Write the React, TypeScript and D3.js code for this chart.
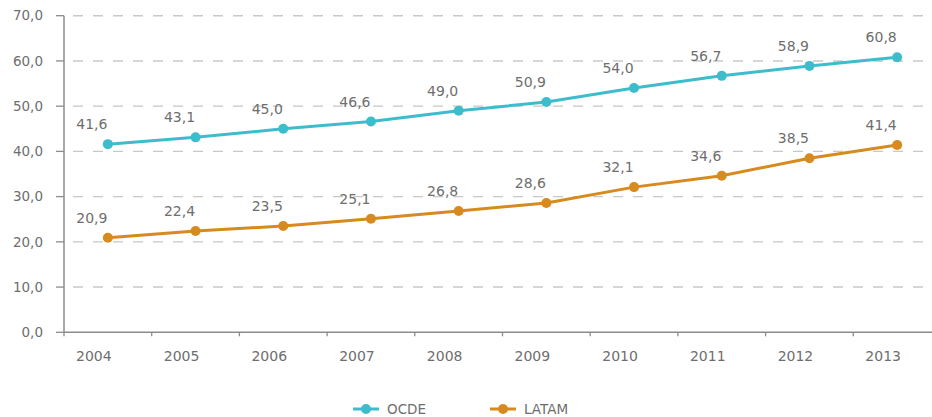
import React from "react";
import * as d3 from "d3";

const years = ["2004", "2005", "2006", "2007", "2008", "2009", "2010", "2011", "2012", "2013"];
const ocde = [41.6, 43.1, 45.0, 46.6, 49.0, 50.9, 54.0, 56.7, 58.9, 60.8];
const latam = [20.9, 22.4, 23.5, 25.1, 26.8, 28.6, 32.1, 34.6, 38.5, 41.4];
const yTicks = [0, 10, 20, 30, 40, 50, 60, 70];
const seriesNames = ["OCDE", "LATAM"];

const W = 932;
const H = 417;
const FONT = "'DejaVu Sans', sans-serif";
const TEXT = "#6e6e6e";
const AXIS = "#8c8c8c";
const GRID = "#c8c8c8";
const COLORS = ["#3dbdcc", "#d78a1e"];

const fmt = (v: number) => v.toFixed(1).replace(".", ",");

export default function App() {
  const x = d3.scaleBand<string>().domain(years).range([64, 64 + 87.7 * years.length]);
  const y = d3.scaleLinear().domain([0, 70]).range([332.3, 15.7]);
  const cx = (yr: string) => (x(yr) as number) + x.bandwidth() / 2;

  const line = d3
    .line<number>()
    .x((_, i) => cx(years[i]))
    .y((d) => y(d));

  const series = [ocde, latam];

  return (
    <svg
      width={W}
      height={H}
      style={{ position: "absolute", left: 0, top: 0, background: "#fff" }}
      fontFamily={FONT}
    >
      {/* horizontal grid */}
      {yTicks.slice(1).map((t) => (
        <line
          key={"g" + t}
          x1={68}
          x2={W}
          y1={y(t)}
          y2={y(t)}
          stroke={GRID}
          strokeWidth={1.4}
          strokeDasharray="10,10"
          strokeDashoffset={-5}
        />
      ))}

      {/* y axis */}
      <line x1={64} x2={64} y1={y(70)} y2={y(0)} stroke={AXIS} strokeWidth={1.5} />
      {yTicks.map((t) => (
        <g key={"yt" + t}>
          <line x1={56} x2={64} y1={y(t)} y2={y(t)} stroke={AXIS} strokeWidth={1.3} />
          <text
            x={43}
            y={y(t)}
            dy="0.35em"
            textAnchor="end"
            fontSize={13.5}
            fill={TEXT}
          >
            {fmt(t)}
          </text>
        </g>
      ))}

      {/* x axis */}
      <line x1={64} x2={W} y1={y(0)} y2={y(0)} stroke={AXIS} strokeWidth={1.5} />
      {years.map((yr) => (
        <g key={"xt" + yr}>
          <line
            x1={x(yr) as number}
            x2={x(yr) as number}
            y1={y(0)}
            y2={y(0) + 4}
            stroke={AXIS}
            strokeWidth={1.3}
          />
          <text
            x={cx(yr) - 14}
            y={y(0) + 29}
            textAnchor="middle"
            fontSize={14}
            fill={TEXT}
          >
            {yr}
          </text>
        </g>
      ))}

      {/* series */}
      {series.map((vals, s) => (
        <g key={"s" + s}>
          <path d={line(vals) as string} fill="none" stroke={COLORS[s]} strokeWidth={3} />
          {vals.map((v, i) => (
            <circle key={i} cx={cx(years[i])} cy={y(v)} r={5} fill={COLORS[s]} />
          ))}
          {vals.map((v, i) => (
            <text
              key={"l" + i}
              x={cx(years[i]) - 16}
              y={y(v) - 15}
              textAnchor="middle"
              fontSize={14}
              fill={TEXT}
            >
              {fmt(v)}
            </text>
          ))}
        </g>
      ))}

      {/* legend */}
      {seriesNames.map((name, s) => {
        const lx = [353, 490][s];
        return (
          <g key={"lg" + s}>
            <line x1={lx} x2={lx + 26} y1={409} y2={409} stroke={COLORS[s]} strokeWidth={3} />
            <circle cx={lx + 13} cy={409} r={5} fill={COLORS[s]} />
            <text x={lx + 34} y={409} dy="0.35em" fontSize={13.5} fill={TEXT}>
              {name}
            </text>
          </g>
        );
      })}
    </svg>
  );
}
